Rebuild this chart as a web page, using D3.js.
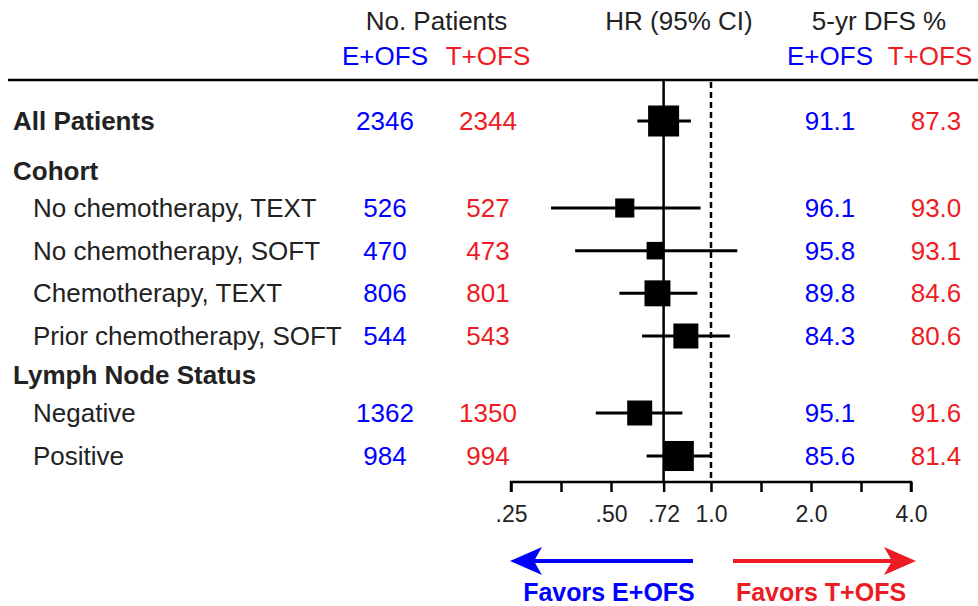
<!DOCTYPE html>
<html>
<head>
<meta charset="utf-8">
<script src="https://cdn.jsdelivr.net/npm/d3@7"></script>
<style>
  body { margin: 0; background: #fff; }
  svg { display: block; font-family: "Liberation Sans", Arial, Helvetica, sans-serif; }
</style>
</head>
<body>
<div id="chart"></div>
<script>
// --- Data (rows top to bottom; null = section header without values)
const rowLabels = ['All Patients', 'Cohort', 'No chemotherapy, TEXT', 'No chemotherapy, SOFT',
  'Chemotherapy, TEXT', 'Prior chemotherapy, SOFT', 'Lymph Node Status', 'Negative', 'Positive'];
const rowKind  = ['total', 'header', 'sub', 'sub', 'sub', 'sub', 'header', 'sub', 'sub'];
const nEOFS    = [2346, null, 526, 470, 806, 544, null, 1362, 984];
const nTOFS    = [2344, null, 527, 473, 801, 543, null, 1350, 994];
const hr       = [0.72, null, 0.55, 0.68, 0.69, 0.84, null, 0.61, 0.80];
const hrLow    = [0.60, null, 0.33, 0.39, 0.53, 0.62, null, 0.45, 0.64];
const hrHigh   = [0.87, null, 0.93, 1.20, 0.91, 1.14, null, 0.82, 1.00];
const boxWeight = [100, null, 38, 32, 70, 65, null, 65, 94];
const dfsEOFS  = ['91.1', null, '96.1', '95.8', '89.8', '84.3', null, '95.1', '85.6'];
const dfsTOFS  = ['87.3', null, '93.0', '93.1', '84.6', '80.6', null, '91.6', '81.4'];

const tickValues = [0.25, Math.SQRT1_2 / 2, 0.5, 0.72, 1, Math.SQRT2, 2, 2 * Math.SQRT2, 4];
const tickLabels = { 0.25: '.25', 0.5: '.50', 0.72: '.72', 1: '1.0', 2: '2.0', 4: '4.0' };
const overallHR = 0.72;

const BLUE = '#0000ff', RED = '#ed1c24', INK = '#222';
const W = 978, H = 606;

const svg = d3.select('#chart').append('svg').attr('width', W).attr('height', H);

// --- Scales
const x = d3.scaleLog().base(2).domain([0.25, 4]).range([511, 911]);
// row index -> y (section headers sit a little tighter than data rows)
const y = d3.scaleLinear().domain([0, 1, 2, 5, 6, 7, 8]).range([121, 171, 208, 336, 375, 413, 456]);
const box = d3.scaleSqrt().domain([0, d3.max(boxWeight)]).range([0, 31]);

const col = { nE: 385, nT: 488, dE: 830, dT: 936, label: 13, sub: 33 };
const axisY = 482, topRule = 80;

// --- Header
const head = svg.append('g').attr('font-size', 26).attr('text-anchor', 'middle');
head.append('text').attr('x', (col.nE + col.nT) / 2).attr('y', 30).attr('fill', INK).text('No. Patients');
head.append('text').attr('x', 679).attr('y', 30).attr('fill', INK).text('HR (95% CI)');
head.append('text').attr('x', 879).attr('y', 30).attr('fill', INK).text('5-yr DFS %');
head.append('text').attr('x', col.nE).attr('y', 65).attr('fill', BLUE).text('E+OFS');
head.append('text').attr('x', col.nT).attr('y', 65).attr('fill', RED).text('T+OFS');
head.append('text').attr('x', col.dE).attr('y', 65).attr('fill', BLUE).text('E+OFS');
head.append('text').attr('x', 930).attr('y', 65).attr('fill', RED).text('T+OFS');

svg.append('line').attr('x1', 8).attr('x2', W).attr('y1', topRule).attr('y2', topRule)
  .attr('stroke', '#000').attr('stroke-width', 2.7);

// --- Reference lines
svg.append('line').attr('x1', x(overallHR)).attr('x2', x(overallHR))
  .attr('y1', topRule).attr('y2', axisY).attr('stroke', '#000').attr('stroke-width', 2.5);
svg.append('line').attr('x1', x(1)).attr('x2', x(1))
  .attr('y1', topRule + 2).attr('y2', axisY).attr('stroke', '#000').attr('stroke-width', 2.5)
  .attr('stroke-dasharray', '6,4');

// --- Rows
const rows = d3.range(rowLabels.length).map(i => ({
  i, label: rowLabels[i], kind: rowKind[i], nE: nEOFS[i], nT: nTOFS[i],
  hr: hr[i], lo: hrLow[i], hi: hrHigh[i], w: boxWeight[i], dE: dfsEOFS[i], dT: dfsTOFS[i]
}));

const txt = svg.append('g').attr('font-size', 26);
txt.selectAll('text.lab').data(rows).join('text').attr('class', 'lab')
  .attr('x', d => d.kind === 'sub' ? col.sub : col.label)
  .attr('y', d => y(d.i)).attr('dy', '0.35em')
  .attr('font-weight', d => d.kind === 'sub' ? 'normal' : 'bold')
  .attr('fill', INK).text(d => d.label);

const data = rows.filter(d => d.hr != null);
const cols = [['nE', col.nE, BLUE], ['nT', col.nT, RED], ['dE', col.dE, BLUE], ['dT', col.dT, RED]];
cols.forEach(([k, cx, c]) => {
  txt.selectAll('text.' + k).data(data).join('text').attr('class', k)
    .attr('x', cx).attr('y', d => y(d.i)).attr('dy', '0.35em')
    .attr('text-anchor', 'middle').attr('fill', c).text(d => d[k]);
});

const ci = svg.append('g');
ci.selectAll('line').data(data).join('line')
  .attr('x1', d => x(d.lo)).attr('x2', d => x(d.hi))
  .attr('y1', d => y(d.i)).attr('y2', d => y(d.i))
  .attr('stroke', '#000').attr('stroke-width', 3);
ci.selectAll('rect').data(data).join('rect')
  .attr('x', d => x(d.hr) - box(d.w) / 2).attr('y', d => y(d.i) - box(d.w) / 2)
  .attr('width', d => box(d.w)).attr('height', d => box(d.w))
  .attr('fill', '#000');

// --- Axis
const axis = d3.axisBottom(x).tickValues(tickValues).tickSize(10).tickPadding(14)
  .tickFormat(v => tickLabels[v] || '');
const ax = svg.append('g').attr('transform', `translate(0,${axisY})`).call(axis);
ax.select('.domain').attr('d', `M${x(0.25)},10V0H${x(4)}V10`).attr('stroke', '#000').attr('stroke-width', 2.5);
ax.selectAll('.tick line').attr('stroke', '#000').attr('stroke-width', 2.5);
ax.selectAll('.tick text').attr('font-size', 23).attr('fill', INK)
  .attr('font-family', '"Liberation Sans", Arial, sans-serif');

// --- Favors arrows
const arrowY = 561;
function arrow(from, tip, color) {
  const s = Math.sign(tip - from);
  svg.append('line').attr('x1', from).attr('x2', tip - s * 24).attr('y1', arrowY).attr('y2', arrowY)
    .attr('stroke', color).attr('stroke-width', 4);
  svg.append('path')
    .attr('d', `M${tip},${arrowY} L${tip - s * 32},${arrowY - 14} L${tip - s * 24},${arrowY} L${tip - s * 32},${arrowY + 14} Z`)
    .attr('fill', color);
}
arrow(x(1) - 18, x(0.25) - 1, BLUE);
arrow(x(1) + 22, x(4) + 5, RED);

const fav = svg.append('g').attr('font-size', 25).attr('font-weight', 'bold').attr('text-anchor', 'middle');
fav.append('text').attr('x', 609).attr('y', 601).attr('fill', BLUE).text('Favors E+OFS');
fav.append('text').attr('x', 821).attr('y', 601).attr('fill', RED).text('Favors T+OFS');
</script>
</body>
</html>
